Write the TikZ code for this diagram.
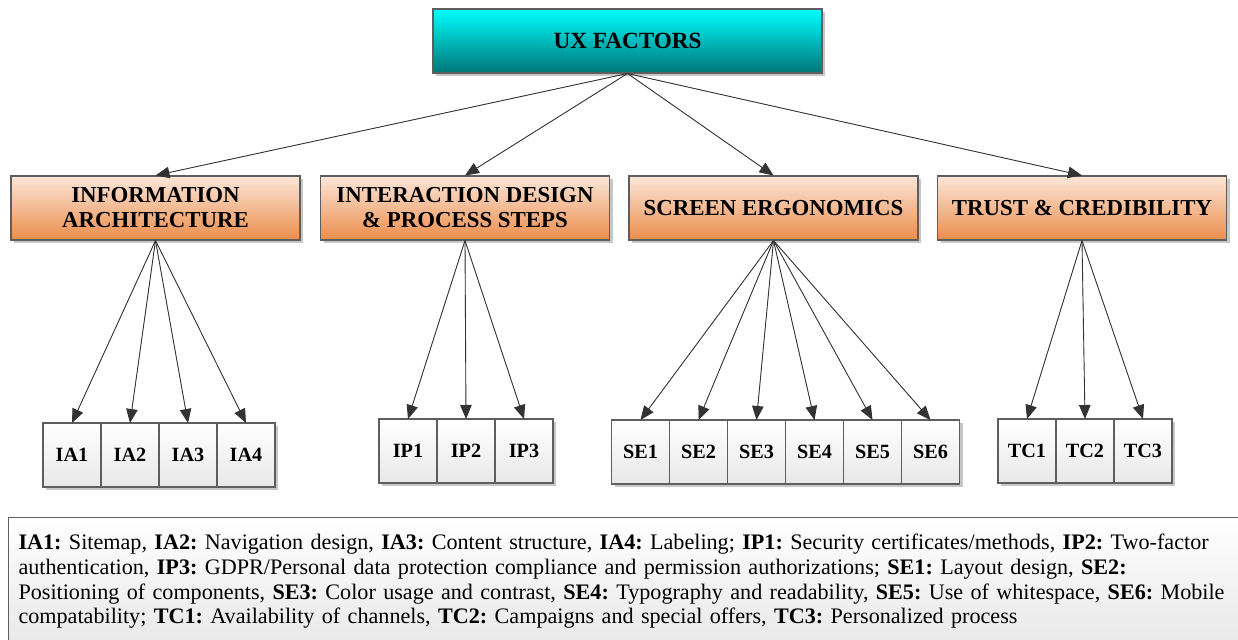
\documentclass[tikz,border=0pt]{standalone}
\usepackage{fontspec}
\setmainfont{Liberation Serif}
\usetikzlibrary{arrows.meta,positioning,shadows}
\definecolor{uxtop}{HTML}{00FFFF}
\definecolor{uxbot}{HTML}{007478}
\definecolor{cattop}{HTML}{FBE6D8}
\definecolor{catbot}{HTML}{EC8D4C}
\definecolor{edgegrey}{HTML}{5E5E5E}
\tikzset{
  shade box/.style={drop shadow={shadow xshift=0.06cm, shadow yshift=-0.06cm, fill=black!22, opacity=1}},
  factor/.style={rectangle, draw=edgegrey, line width=0.6pt, top color=uxtop, bottom color=uxbot,
    minimum width=7.78cm, minimum height=1.28cm, font=\bfseries\fontsize{13.2}{15}\selectfont, shade box},
  group/.style={rectangle, draw=edgegrey, line width=0.6pt, top color=cattop, bottom color=catbot,
    minimum width=5.78cm, minimum height=1.28cm, align=center, font=\bfseries\fontsize{13}{14.2}\selectfont, shade box},
  item/.style={rectangle, draw=edgegrey, line width=0.6pt, top color=white, bottom color=black!9,
    minimum width=1.16cm, minimum height=1.28cm, outer sep=0pt, font=\bfseries\fontsize{11.5}{13}\selectfont, shade box},
  legend/.style={rectangle, draw=edgegrey, line width=0.6pt, top color=white, bottom color=black!9,
    align=left, text width=24.6cm, inner xsep=0.2cm, inner ysep=0.32cm, font=\frenchspacing\fontsize{12.6}{14.2}\selectfont},
  flow/.style={-{Triangle[length=2.8mm,width=2.3mm]}, line width=0.5pt, draw=black!80, fill=black!80},
}

\begin{document}
\begin{tikzpicture}
  \useasboundingbox (0,0) rectangle (24.76,-12.8);

  % top factor and its four groups
  \node[factor] (ux) at (12.55,-0.82) {UX FACTORS};
  \node[group] (ia) at (3.11,-4.16) {INFORMATION\\ ARCHITECTURE};
  \node[group] (ip) at (9.30,-4.16) {INTERACTION DESIGN\\ \& PROCESS STEPS};
  \node[group] (se) at (15.47,-4.16) {SCREEN ERGONOMICS};
  \node[group] (tc) at (21.64,-4.16) {TRUST \& CREDIBILITY};

  % items
  \node[item] (ia1) at (1.44,-9.10) {IA1};
  \node[item, right=0pt of ia1] (ia2) {IA2};
  \node[item, right=0pt of ia2] (ia3) {IA3};
  \node[item, right=0pt of ia3] (ia4) {IA4};

  \node[item] (ip1) at (8.16,-9.02) {IP1};
  \node[item, right=0pt of ip1] (ip2) {IP2};
  \node[item, right=0pt of ip2] (ip3) {IP3};

  \node[item] (se1) at (12.81,-9.04) {SE1};
  \node[item, right=0pt of se1] (se2) {SE2};
  \node[item, right=0pt of se2] (se3) {SE3};
  \node[item, right=0pt of se3] (se4) {SE4};
  \node[item, right=0pt of se4] (se5) {SE5};
  \node[item, right=0pt of se5] (se6) {SE6};

  \node[item] (tc1) at (20.54,-9.02) {TC1};
  \node[item, right=0pt of tc1] (tc2) {TC2};
  \node[item, right=0pt of tc2] (tc3) {TC3};

  \draw[flow] (ux.south) -- (ia.north);
  \draw[flow] (ux.south) -- (ip.north);
  \draw[flow] (ux.south) -- (se.north);
  \draw[flow] (ux.south) -- (tc.north);

  \draw[flow] (ia.south) -- (ia1.north);
  \draw[flow] (ia.south) -- (ia2.north);
  \draw[flow] (ia.south) -- (ia3.north);
  \draw[flow] (ia.south) -- (ia4.north);

  \draw[flow] (ip.south) -- (ip1.north);
  \draw[flow] (ip.south) -- (ip2.north);
  \draw[flow] (ip.south) -- (ip3.north);

  \draw[flow] (se.south) -- (se1.north);
  \draw[flow] (se.south) -- (se2.north);
  \draw[flow] (se.south) -- (se3.north);
  \draw[flow] (se.south) -- (se4.north);
  \draw[flow] (se.south) -- (se5.north);
  \draw[flow] (se.south) -- (se6.north);

  \draw[flow] (tc.south) -- (tc1.north);
  \draw[flow] (tc.south) -- (tc2.north);
  \draw[flow] (tc.south) -- (tc3.north);

  % key to the item codes
  \node[legend, anchor=north west] (key) at (0.16,-10.34) {\textbf{IA1:} Sitemap, \textbf{IA2:} Navigation design, \textbf{IA3:} Content structure, \textbf{IA4:} Labeling; \textbf{IP1:} Security certificates/methods, \textbf{IP2:} Two-factor\\
    authentication, \textbf{IP3:} GDPR/Personal data protection compliance and permission authorizations; \textbf{SE1:} Layout design, \textbf{SE2:}\\
    Positioning of components, \textbf{SE3:} Color usage and contrast, \textbf{SE4:} Typography and readability, \textbf{SE5:} Use of whitespace, \textbf{SE6:} Mobile\\
    compatability; \textbf{TC1:} Availability of channels, \textbf{TC2:} Campaigns and special offers, \textbf{TC3:} Personalized process};
\end{tikzpicture}
\end{document}
